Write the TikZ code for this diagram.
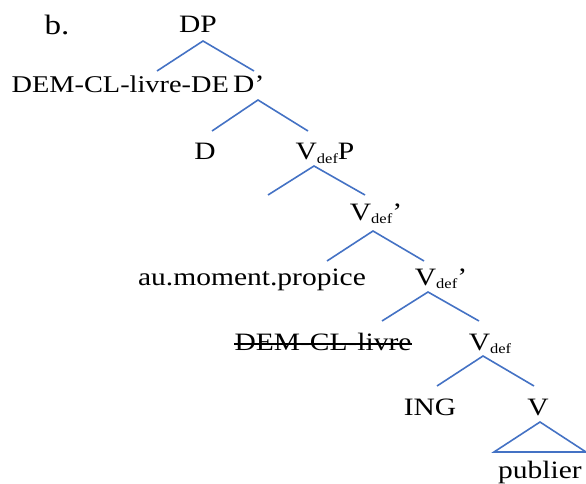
\documentclass[tikz,border=0pt]{standalone}
\usepackage{fontspec}
\setmainfont{Liberation Serif}[FakeStretch=1.18]
\definecolor{treeblue}{RGB}{68,114,196}
\newcommand\Vd{V\raisebox{-3pt}{\fontsize{14}{14}\selectfont def}}
\begin{document}
\begin{tikzpicture}[x=1pt,y=-1pt,
  every node/.style={inner sep=0pt, font=\fontsize{25}{29}\selectfont},
  lab/.style={anchor=base},
  branch/.style={draw=treeblue, line width=1.6pt}]
\useasboundingbox (0,0) rectangle (586,484);
% labels
\node[lab, font=\fontsize{28}{32}\selectfont] (b) at (57,35) {b.};
\node[lab] (DP) at (198,33) {DP};
\node[anchor=base west] (Dbar) at (233,93) {D’};
\node[anchor=base east, font=\fontsize{24}{28}\selectfont] (spec) at (229,93) {DEM-CL-livre-DE};
\node[lab] (D) at (205,160) {D};
\node[lab] (VdP) at (325,160) {\Vd P};
\node[lab] (Vdb1) at (376,220) {\Vd’};
\node[lab] (adv) at (252,285) {au.moment.propice};
\node[lab] (Vdb2) at (441,285) {\Vd’};
\node[lab] (trace) at (323,350) {DEM-CL-livre};
\node[lab] (Vd3) at (490,350) {\Vd};
\node[lab] (ING) at (430,415) {ING};
\node[lab] (V) at (538,415) {V};
\node[anchor=base east] (pub) at (582,478) {publier};
% strike-through
\draw[line width=1.3pt] ([yshift=6pt]trace.base west) -- ([yshift=6pt]trace.base east);
% branch points
\coordinate (a1) at (203,41);  \coordinate (l1) at (157,71);  \coordinate (r1) at (254,71);
\coordinate (a2) at (258,100); \coordinate (l2) at (212,131); \coordinate (r2) at (308,131);
\coordinate (a3) at (314,166); \coordinate (l3) at (268,195); \coordinate (r3) at (365,195);
\coordinate (a4) at (373,231); \coordinate (l4) at (327,261); \coordinate (r4) at (424,261);
\coordinate (a5) at (428,292); \coordinate (l5) at (382,321); \coordinate (r5) at (479,321);
\coordinate (a6) at (483,356); \coordinate (l6) at (437,386); \coordinate (r6) at (534,386);
\coordinate (a7) at (540,422); \coordinate (l7) at (494,452); \coordinate (r7) at (586,452);
\draw[branch] (l1) -- (a1) -- (r1);
\draw[branch] (l2) -- (a2) -- (r2);
\draw[branch] (l3) -- (a3) -- (r3);
\draw[branch] (l4) -- (a4) -- (r4);
\draw[branch] (l5) -- (a5) -- (r5);
\draw[branch] (l6) -- (a6) -- (r6);
\draw[branch] (l7) -- (a7) -- (r7) -- cycle;
\end{tikzpicture}
\end{document}
